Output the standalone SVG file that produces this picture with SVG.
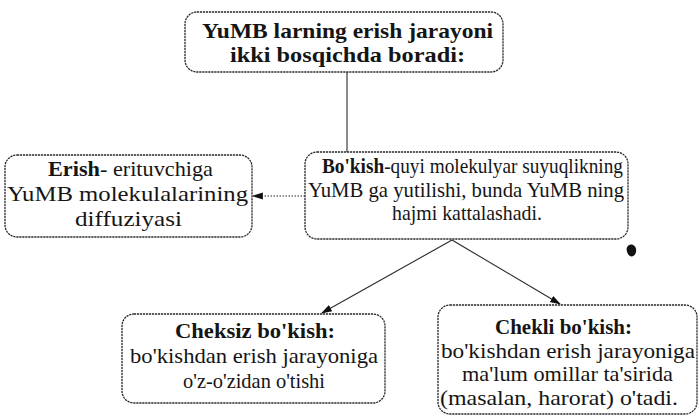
<svg xmlns="http://www.w3.org/2000/svg" width="699" height="417" viewBox="0 0 699 417">
<defs>
<marker id="ah" viewBox="0 0 10 10" refX="9" refY="5" markerWidth="11" markerHeight="11" orient="auto" markerUnits="userSpaceOnUse">
<path d="M0,1.8 L10,5 L0,8.2 z" fill="#111"/>
</marker>
<style>
.box{fill:#fff;stroke:#2a2a2a;stroke-width:1.3;stroke-dasharray:2.2 0.8}
.t{font-family:"Liberation Serif","Times New Roman",serif;font-size:21px;fill:#151515}
.b{font-weight:bold}
.c{fill:none;stroke:#2a2a2a;stroke-width:1.1}
</style>
</defs>
<rect width="699" height="417" fill="#fff"/>
<g id="connectors">
<line class="c" x1="347" y1="72" x2="347" y2="152"/>
<line class="c" x1="305" y1="196" x2="253" y2="196" stroke-dasharray="1.5 1.5" marker-end="url(#ah)"/>
<line class="c" x1="452" y1="240" x2="322" y2="313" marker-end="url(#ah)"/>
<line class="c" x1="452" y1="240" x2="560" y2="304" marker-end="url(#ah)"/>
</g>
<g id="top">
<rect class="box" x="185" y="12" width="318" height="60" rx="12"/>
<text class="t b" x="202" y="38" textLength="291" lengthAdjust="spacingAndGlyphs">YuMB larning erish jarayoni</text>
<text class="t b" x="230" y="62" textLength="235" lengthAdjust="spacingAndGlyphs">ikki bosqichda boradi:</text>
</g>
<g id="erish">
<rect class="box" x="5" y="155" width="247" height="82" rx="12"/>
<text class="t" x="48" y="176" textLength="165" lengthAdjust="spacingAndGlyphs"><tspan class="b">Erish</tspan>- erituvchiga</text>
<text class="t" x="7" y="201" textLength="241" lengthAdjust="spacingAndGlyphs">YuMB molekulalarining</text>
<text class="t" x="75" y="226" textLength="107" lengthAdjust="spacingAndGlyphs">diffuziyasi</text>
</g>
<g id="bokish">
<rect class="box" x="305" y="152" width="323" height="87" rx="12"/>
<text class="t" x="322" y="173" textLength="301" lengthAdjust="spacingAndGlyphs"><tspan class="b">Bo'kish</tspan>-quyi molekulyar suyuqlikning</text>
<text class="t" x="308" y="197" textLength="316" lengthAdjust="spacingAndGlyphs">YuMB ga yutilishi, bunda YuMB ning</text>
<text class="t" x="392" y="220" textLength="150" lengthAdjust="spacingAndGlyphs">hajmi kattalashadi.</text>
</g>
<g id="cheksiz">
<rect class="box" x="122" y="314" width="263" height="89" rx="12"/>
<text class="t b" x="175" y="338" textLength="160" lengthAdjust="spacingAndGlyphs">Cheksiz bo'kish:</text>
<text class="t" x="130" y="363" textLength="248" lengthAdjust="spacingAndGlyphs">bo'kishdan erish jarayoniga</text>
<text class="t" x="183" y="388" textLength="142" lengthAdjust="spacingAndGlyphs">o'z-o'zidan o'tishi</text>
</g>
<g id="chekli">
<rect class="box" x="438" y="305" width="259" height="109" rx="12"/>
<text class="t b" x="495" y="334" textLength="137" lengthAdjust="spacingAndGlyphs">Chekli bo'kish:</text>
<text class="t" x="441" y="358" textLength="254" lengthAdjust="spacingAndGlyphs">bo'kishdan erish jarayoniga</text>
<text class="t" x="462" y="381" textLength="211" lengthAdjust="spacingAndGlyphs">ma'lum omillar ta'sirida</text>
<text class="t" x="440" y="405" textLength="238" lengthAdjust="spacingAndGlyphs">(masalan, harorat) o'tadi.</text>
</g>
<path d="M629,245 C633,243 637,247 636,252 C635,257 630,258 628,254 C626,250 626,247 629,245 z" fill="#111"/>
</svg>
